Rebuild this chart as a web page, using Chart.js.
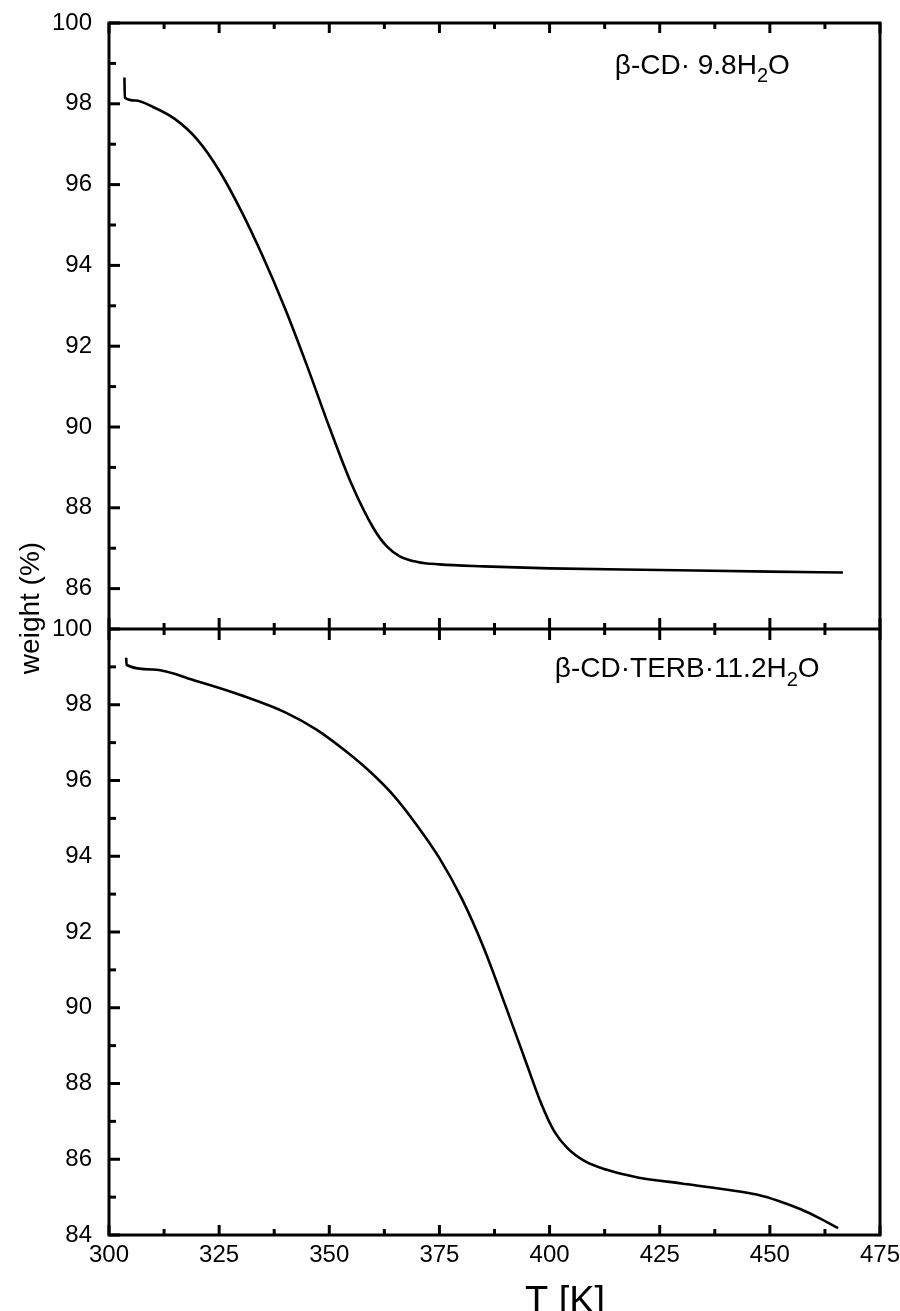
<!DOCTYPE html>
<html>
<head>
<meta charset="utf-8">
<title>TGA</title>
<script src="https://cdn.jsdelivr.net/npm/chart.js@4.4.1/dist/chart.umd.min.js"></script>
<style>
  html, body { margin: 0; padding: 0; background: #fff; }
  #wrap { width: 900px; height: 1311px; position: relative; }
</style>
</head>
<body>
<div id="wrap"><canvas id="tga"></canvas></div>
<script>
// weight loss curves, temperature in K, weight in %
const tempCD = [303.5, 303.6, 306, 310, 315, 320, 325, 330, 335, 340, 345, 350, 355, 360, 363, 366,
    370, 375, 385, 400, 425, 450, 466.6];
const weightCD = [98.65, 98.15, 98.08, 97.92, 97.62, 97.12, 96.35, 95.35, 94.2, 92.92, 91.5, 90.0, 88.6, 87.5,
    87.05, 86.8, 86.66, 86.6, 86.55, 86.5, 86.46, 86.42, 86.4];

const tempTerb = [303.9, 304.0, 310, 320, 330, 340, 347, 354, 360, 365, 370, 375, 380, 385, 390, 395, 398,
    401, 404, 408, 413, 420, 430, 440, 447, 452, 457, 461, 465.5];
const weightTerb = [99.24, 99.05, 98.93, 98.62, 98.25, 97.8, 97.35, 96.75, 96.15, 95.55, 94.8, 93.95, 92.9,
    91.6, 90.05, 88.45, 87.5, 86.75, 86.3, 85.95, 85.72, 85.52, 85.36, 85.2, 85.07, 84.9, 84.68, 84.46, 84.18];

// axis ticks
const tempTicks = [300, 325, 350, 375, 400, 425, 450, 475];
const tempMinor = [312.5, 337.5, 362.5, 387.5, 412.5, 437.5, 462.5];
const upperTicks = [86, 88, 90, 92, 94, 96, 98, 100];
const upperMinor = [87, 89, 91, 93, 95, 97, 99];
const lowerTicks = [84, 86, 88, 90, 92, 94, 96, 98, 100];
const lowerMinor = [85, 87, 89, 91, 93, 95, 97, 99];

// sample labels: [text, subscript, text]
const labelCD = ['\u03b2-CD\u00b7 9.8H', '2', 'O'];
const labelTerb = ['\u03b2-CD\u00b7TERB\u00b711.2H', '2', 'O'];

const FONT = "'Liberation Sans', Arial, Helvetica, sans-serif";

function toPoints(xs, ys) {
    return xs.map((x, i) => ({ x: x, y: ys[i] }));
}

// label with subscript, baseline at (x, y)
function drawFormula(ctx, parts, x, y, size) {
    ctx.textAlign = 'left';
    ctx.textBaseline = 'alphabetic';
    let cx = x;
    parts.forEach((p, i) => {
        const sub = i % 2 === 1;
        ctx.font = (sub ? Math.round(size * 0.7) : size) + 'px ' + FONT;
        ctx.fillText(p, cx, sub ? y + size * 0.3 : y);
        cx += ctx.measureText(p).width;
    });
}

// frame, inward ticks, middle divider, axis titles
const frameAxes = {
    id: 'frameAxes',
    afterDraw(chart) {
        const { ctx, chartArea: a, scales } = chart;
        const xs = scales.x, yU = scales.yUpper, yL = scales.yLower;
        const mid = yU.bottom;
        const seg = (x1, y1, x2, y2) => {
            ctx.beginPath();
            ctx.moveTo(x1, y1);
            ctx.lineTo(x2, y2);
            ctx.stroke();
        };

        ctx.save();
        ctx.strokeStyle = '#000';
        ctx.fillStyle = '#000';
        ctx.lineWidth = 3;
        ctx.lineCap = 'butt';
        ctx.strokeRect(a.left, a.top, a.width, a.height);
        seg(a.left, mid, a.right, mid);

        tempTicks.forEach(v => {
            const px = xs.getPixelForValue(v);
            seg(px, a.top, px, a.top + 10);
            seg(px, mid - 11, px, mid + 11);
            seg(px, a.bottom, px, a.bottom - 10);
        });
        tempMinor.forEach(v => {
            const px = xs.getPixelForValue(v);
            seg(px, a.top, px, a.top + 6);
            seg(px, mid - 6, px, mid + 6);
            seg(px, a.bottom, px, a.bottom - 6);
        });
        upperTicks.forEach(v => {
            const py = yU.getPixelForValue(v);
            seg(a.left, py, a.left + 11, py);
        });
        upperMinor.forEach(v => {
            const py = yU.getPixelForValue(v);
            seg(a.left, py, a.left + 7, py);
        });
        lowerTicks.forEach(v => {
            const py = yL.getPixelForValue(v);
            seg(a.left, py, a.left + 11, py);
        });
        lowerMinor.forEach(v => {
            const py = yL.getPixelForValue(v);
            seg(a.left, py, a.left + 7, py);
        });

        drawFormula(ctx, labelCD, xs.getPixelForValue(414.8), yU.getPixelForValue(98.74), 28);
        drawFormula(ctx, labelTerb, xs.getPixelForValue(401.2), yL.getPixelForValue(98.73), 28);

        // x title sits right of centre, partly cut by the canvas edge
        ctx.font = '38px ' + FONT;
        ctx.textAlign = 'center';
        ctx.textBaseline = 'alphabetic';
        ctx.fillText('T [K]', 565, chart.height + 2);

        // shared y title
        ctx.translate(31, 608);
        ctx.rotate(-Math.PI / 2);
        ctx.font = '28px ' + FONT;
        ctx.textAlign = 'center';
        ctx.textBaseline = 'middle';
        ctx.fillText('weight (%)', 0, 0);
        ctx.restore();
    }
};

const tickFont = { family: FONT, size: 24 };

function yScale(min, max, ticks, weight) {
    return {
        type: 'linear',
        position: 'left',
        stack: 'tga',
        stackWeight: weight,
        min: min,
        max: max,
        afterBuildTicks: s => { s.ticks = ticks.map(v => ({ value: v })); },
        afterFit: s => {
            s.width = 109;
            s.paddingTop = 0;
            s.paddingBottom = 0;
        },
        grid: { display: false, drawTicks: false },
        border: { display: false },
        ticks: { font: tickFont, color: '#000', padding: 17 }
    };
}

const curveStyle = {
    borderColor: '#000',
    borderWidth: 2.6,
    pointRadius: 0,
    cubicInterpolationMode: 'monotone',
    fill: false
};

new Chart(document.getElementById('tga'), {
    type: 'line',
    data: {
        datasets: [
            Object.assign({ data: toPoints(tempCD, weightCD), yAxisID: 'yUpper' }, curveStyle),
            Object.assign({ data: toPoints(tempTerb, weightTerb), yAxisID: 'yLower' }, curveStyle)
        ]
    },
    options: {
        responsive: true,
        maintainAspectRatio: false,
        animation: false,
        layout: { padding: { top: 23, right: 20, bottom: 0, left: 0 } },
        plugins: {
            legend: { display: false },
            tooltip: { enabled: false }
        },
        scales: {
            x: {
                type: 'linear',
                position: 'bottom',
                min: 300,
                max: 475,
                afterBuildTicks: s => { s.ticks = tempTicks.map(v => ({ value: v })); },
                afterFit: s => {
                    s.height = 76;
                    s.paddingLeft = 0;
                    s.paddingRight = 0;
                },
                grid: { display: false, drawTicks: false },
                border: { display: false },
                ticks: { font: tickFont, color: '#000', padding: 6, maxRotation: 0, autoSkip: false }
            },
            yLower: yScale(84, 100, lowerTicks, 1),
            yUpper: yScale(85, 100, upperTicks, 1)
        }
    },
    plugins: [frameAxes]
});
</script>
</body>
</html>
